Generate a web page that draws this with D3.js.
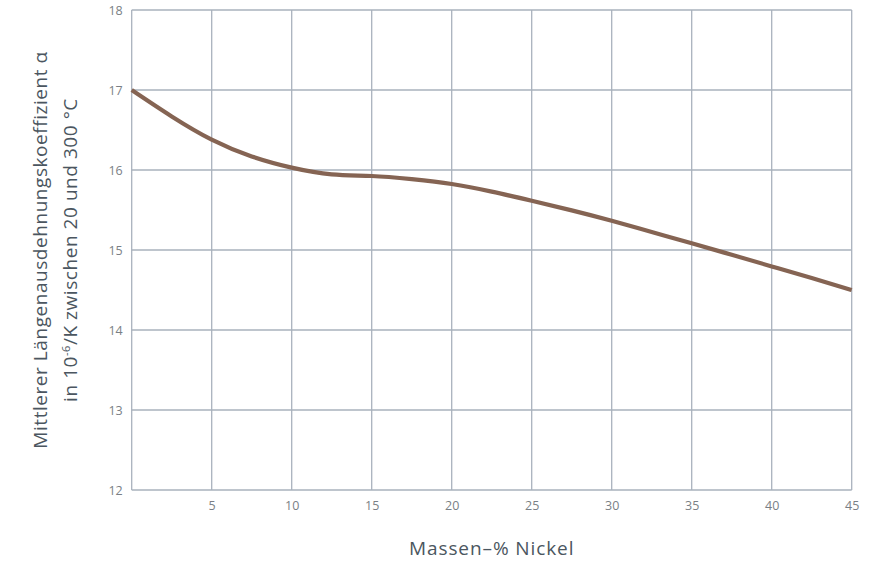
<!DOCTYPE html>
<html>
<head>
<meta charset="utf-8">
<script src="https://cdn.jsdelivr.net/npm/d3@7"></script>
<style>
  html, body { margin: 0; padding: 0; background: #fff; }
  svg { display: block; font-family: "Open Sans", "Noto Sans", sans-serif; }
</style>
</head>
<body>
<svg id="chart" width="888" height="564"></svg>
<script>
// Nickel content (mass-%) and mean linear expansion coefficient (10^-6/K, 20–300 °C)
const nickel = [0, 2.5, 5, 7.5, 10, 12.5, 15, 17.5, 20, 22.5, 25, 27.5, 30, 32.5, 35, 37.5, 40, 42.5, 45];
const alpha  = [17.0, 16.67, 16.38, 16.17, 16.03, 15.945, 15.925, 15.885, 15.825, 15.73, 15.615, 15.495, 15.365, 15.225, 15.085, 14.94, 14.795, 14.65, 14.5];
const xTicks = [5, 10, 15, 20, 25, 30, 35, 40, 45];
const yTicks = [12, 13, 14, 15, 16, 17, 18];

const svg = d3.select("#chart");
const margin = { left: 131.7, right: 36.3, top: 10, bottom: 74 };
const W = 888, H = 564;

const x = d3.scaleLinear().domain([0, 45]).range([margin.left, W - margin.right]);
const y = d3.scaleLinear().domain([12, 18]).range([H - margin.bottom, margin.top]);

const gridColor = "#a9b2bd";

// Vertical grid lines
svg.append("g")
  .selectAll("line")
  .data([0].concat(xTicks))
  .join("line")
  .attr("x1", d => x(d)).attr("x2", d => x(d))
  .attr("y1", y(12)).attr("y2", y(18))
  .attr("stroke", gridColor).attr("stroke-width", 1.3);

// Horizontal grid lines
svg.append("g")
  .selectAll("line")
  .data(yTicks)
  .join("line")
  .attr("x1", x(0)).attr("x2", x(45))
  .attr("y1", d => y(d)).attr("y2", d => y(d))
  .attr("stroke", gridColor).attr("stroke-width", 1.3);

// Axes (labels only; grid draws the lines)
const xAxis = svg.append("g")
  .attr("transform", `translate(0,${y(12)})`)
  .call(d3.axisBottom(x).tickValues(xTicks).tickSize(0).tickPadding(11).tickFormat(d3.format("d")));
const yAxis = svg.append("g")
  .attr("transform", `translate(${x(0)},0)`)
  .call(d3.axisLeft(y).tickValues(yTicks).tickSize(0).tickPadding(9).tickFormat(d3.format("d")));
[xAxis, yAxis].forEach(g => {
  g.select(".domain").remove();
  g.selectAll("text")
    .attr("fill", "#7a7f85")
    .style("font-size", "12.5px")
    .style("font-family", "'Open Sans', 'Noto Sans', sans-serif");
});

// Curve
const line = d3.line()
  .x((d, i) => x(nickel[i]))
  .y(d => y(d))
  .curve(d3.curveNatural);
svg.append("path")
  .datum(alpha)
  .attr("d", line)
  .attr("fill", "none")
  .attr("stroke", "#856453")
  .attr("stroke-width", 4.2)
  .attr("stroke-linecap", "butt");

// Axis titles
const titleColor = "#4b5660";
svg.append("text")
  .attr("x", (x(0) + x(45)) / 2)
  .attr("y", 555)
  .attr("text-anchor", "middle")
  .attr("fill", titleColor)
  .style("font-size", "19px")
  .style("letter-spacing", "0.9px")
  .text("Massen–% Nickel");

const yc = (y(12) + y(18)) / 2;
const yTitle = svg.append("text")
  .attr("transform", `translate(0,${yc}) rotate(-90)`)
  .attr("text-anchor", "middle")
  .attr("fill", titleColor)
  .style("font-size", "19px")
  .style("letter-spacing", "0.55px");
yTitle.append("tspan").attr("x", 0).attr("y", 47)
  .text("Mittlerer Längenausdehnungskoeffizient α");
const l2 = yTitle.append("tspan").attr("x", 0).attr("y", 77);
l2.append("tspan").text("in 10");
l2.append("tspan").attr("dy", -7).style("font-size", "11px").text("-6");
l2.append("tspan").attr("dy", 7).text("/K zwischen 20 und 300 °C");
</script>
</body>
</html>
